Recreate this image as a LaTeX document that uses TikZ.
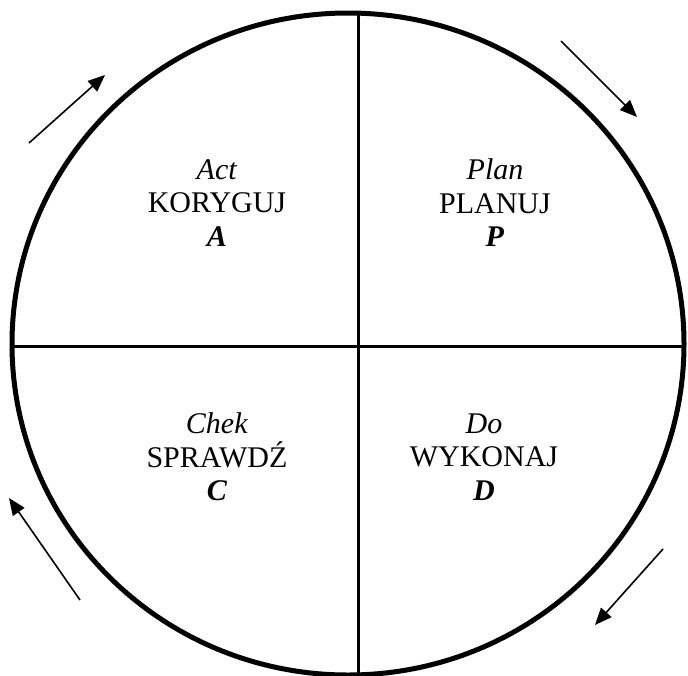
\documentclass[tikz,border=0pt]{standalone}
\usepackage{fontspec}
\setmainfont{Liberation Serif}
\usetikzlibrary{arrows.meta}

\begin{document}
\begin{tikzpicture}[
  x=1pt, y=-1pt,
  rim/.style={line width=5pt},
  divider/.style={line width=3pt},
  flow/.style={-{Triangle[length=17pt,width=14pt]}, line width=1.6pt},
  phase/.style={align=center, inner sep=0pt, font=\fontsize{30}{33.5}\selectfont}
]
\useasboundingbox (0,0) rectangle (688,675);
% circle and quadrants
\draw[rim] (348,344) ellipse [x radius=336, y radius=331];
\coordinate (top) at (358,13);
\coordinate (bottom) at (358,676);
\coordinate (left) at (12,346);
\coordinate (right) at (684,346);
\draw[divider] (top) -- (bottom);
\draw[divider] (left) -- (right);
% phases
\node[phase] (act) at (217,203) {\textit{Act}\\KORYGUJ\\\textbf{\textit{A}}};
\node[phase] (plan) at (495,203) {\textit{Plan}\\PLANUJ\\\textbf{\textit{P}}};
\node[phase] (check) at (217,457) {\textit{Chek}\\SPRAWDŹ\\\textbf{\textit{C}}};
\node[phase] (do) at (484,457) {\textit{Do}\\WYKONAJ\\\textbf{\textit{D}}};
% direction arrows
\coordinate (a1s) at (29,143);  \coordinate (a1e) at (105,75);
\coordinate (a2s) at (561,41);  \coordinate (a2e) at (637,117);
\coordinate (a3s) at (663,549); \coordinate (a3e) at (595,625);
\coordinate (a4s) at (80,600);  \coordinate (a4e) at (9,498);
\draw[flow] (a1s) -- (a1e);
\draw[flow] (a2s) -- (a2e);
\draw[flow] (a3s) -- (a3e);
\draw[flow] (a4s) -- (a4e);
\end{tikzpicture}
\end{document}
